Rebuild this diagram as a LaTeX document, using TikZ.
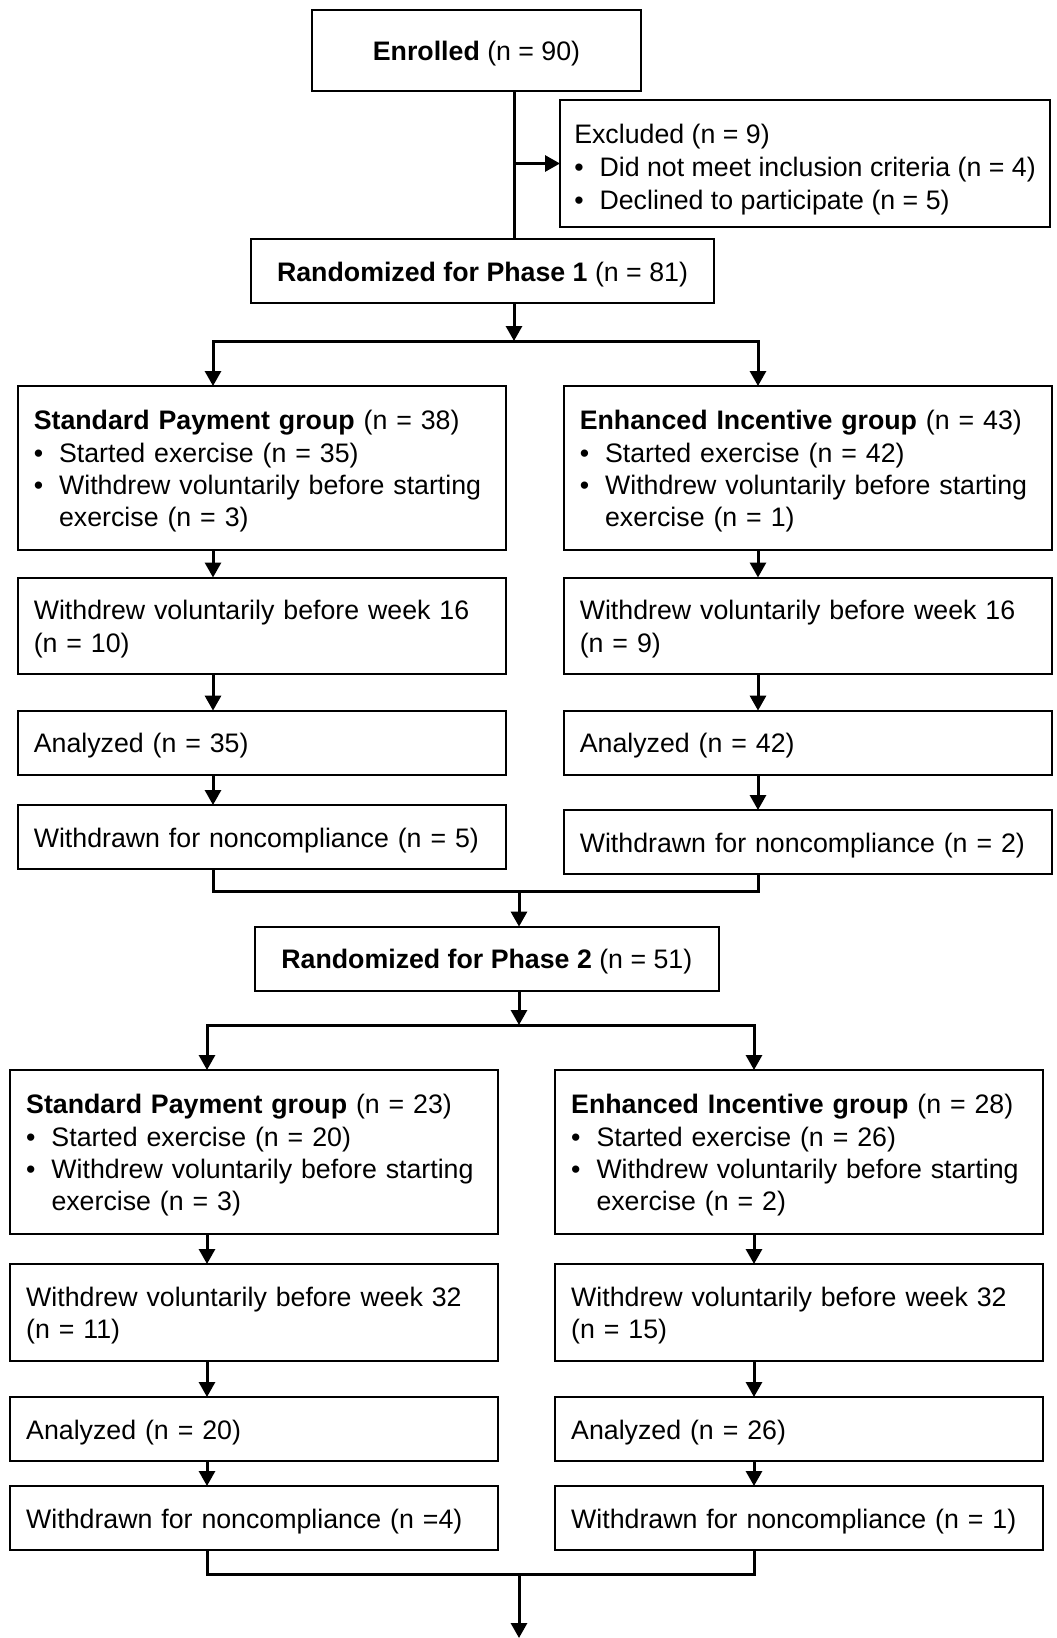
\documentclass[tikz,border=0pt]{standalone}
\usepackage{fontspec}
\setmainfont{Liberation Sans}
\usepackage{tikz}
\usetikzlibrary{positioning, arrows.meta}
\newcommand{\itemdot}{\makebox[12.65pt][l]{\textbullet}}
\newcommand{\toplift}{\rule{0pt}{13pt}}

\begin{document}
\begin{tikzpicture}[x=1pt, y=1pt,
        box/.style={draw, line width=1pt, outer sep=0pt, text width=228pt, inner xsep=8pt, inner ysep=0pt, align=left, font=\fontsize{13.37pt}{16.2pt}\selectfont, execute at begin node=\toplift},
        titlebox/.style={draw, line width=1pt, outer sep=0pt, inner sep=0pt, align=center, font=\fontsize{13.37pt}{16.2pt}\selectfont, execute at begin node=\toplift},
        link/.style={line width=1.5pt},
        >={Triangle[length=7.5pt, width=8pt]}
    ]
        \useasboundingbox (0,0) rectangle (528,-819);

        \node (enrolled) [titlebox, minimum width=164.5pt, minimum height=40.5pt] at (238.25,-25.25) {\textbf{Enrolled} (n = 90)};
        \node (excluded) [draw, line width=1pt, outer sep=0pt, inner xsep=5pt, inner ysep=0pt, align=left, font=\fontsize{13.37pt}{16.4pt}\selectfont, minimum width=245pt, minimum height=63.5pt, anchor=north west] at (280,-50) {\rule{0pt}{15.6pt}Excluded (n = 9)\\\itemdot Did not meet inclusion criteria (n = 4)\\\itemdot Declined to participate (n = 5)};
        \node (rand1) [titlebox, minimum width=231.5pt, minimum height=32pt] at (241.25,-135.5) {\textbf{Randomized for Phase 1} (n = 81)};

        % phase 1
        \node (sp1) [box, minimum height=82pt] at (130.9,-234) {\textbf{Standard Payment group} (n = 38)\\\itemdot Started exercise (n = 35)\\\itemdot Withdrew voluntarily before starting\\\hspace*{12.65pt}exercise (n = 3)};
        \node (ei1) [box, minimum height=82pt, right=29pt of sp1] {\textbf{Enhanced Incentive group} (n = 43)\\\itemdot Started exercise (n = 42)\\\itemdot Withdrew voluntarily before starting\\\hspace*{12.65pt}exercise (n = 1)};
        \node (wk16a) [box, minimum height=48.25pt, below=13.75pt of sp1] {Withdrew voluntarily before week 16\\(n = 10)};
        \node (wk16b) [box, minimum height=48.25pt, below=13.75pt of ei1] {Withdrew voluntarily before week 16\\(n = 9)};
        \node (an1a) [box, minimum height=32pt, below=18.3pt of wk16a] {Analyzed (n = 35)};
        \node (an1b) [box, minimum height=32pt, below=18.3pt of wk16b] {Analyzed (n = 42)};
        \node (wd1a) [box, minimum height=32pt, below=15.2pt of an1a] {Withdrawn for noncompliance (n = 5)};
        \node (wd1b) [box, minimum height=32pt, below=17.7pt of an1b] {Withdrawn for noncompliance (n = 2)};

        \node (rand2) [titlebox, minimum width=231.75pt, minimum height=32pt] at (243.4,-479.3) {\textbf{Randomized for Phase 2} (n = 51)};

        % phase 2
        \node (sp2) [box, minimum height=82pt] at (127.1,-576) {\textbf{Standard Payment group} (n = 23)\\\itemdot Started exercise (n = 20)\\\itemdot Withdrew voluntarily before starting\\\hspace*{12.65pt}exercise (n = 3)};
        \node (ei2) [box, minimum height=82pt, right=28.5pt of sp2] {\textbf{Enhanced Incentive group} (n = 28)\\\itemdot Started exercise (n = 26)\\\itemdot Withdrew voluntarily before starting\\\hspace*{12.65pt}exercise (n = 2)};
        \node (wk32a) [box, minimum height=48.5pt, below=15pt of sp2] {Withdrew voluntarily before week 32\\(n = 11)};
        \node (wk32b) [box, minimum height=48.5pt, below=15pt of ei2] {Withdrew voluntarily before week 32\\(n = 15)};
        \node (an2a) [box, minimum height=32pt, below=18pt of wk32a] {Analyzed (n = 20)};
        \node (an2b) [box, minimum height=32pt, below=18pt of wk32b] {Analyzed (n = 26)};
        \node (wd2a) [box, minimum height=32pt, below=12.5pt of an2a] {Withdrawn for noncompliance (n =4)};
        \node (wd2b) [box, minimum height=32pt, below=12.5pt of an2b] {Withdrawn for noncompliance (n = 1)};

        % connector columns and joints
        \coordinate (trunk1) at (257,0);
        \coordinate (c1l) at (106.5,0);
        \coordinate (c1r) at (379,0);
        \coordinate (c2l) at (103.5,0);
        \coordinate (c2r) at (377,0);
        \coordinate (split1) at (257,-170.5);
        \coordinate (merge1) at (259.5,-445.5);
        \coordinate (split2) at (259.5,-512.5);
        \coordinate (merge2) at (259.5,-787.3);
        \coordinate (out) at (259.5,-819);

        \draw[link] (enrolled.south -| trunk1) -- (rand1.north -| trunk1);
        \draw[link, ->] (trunk1 |- excluded.west) -- (excluded.west);
        \draw[link, ->] (rand1.south -| split1) -- (split1);
        \draw[link, ->] (split1) -| (sp1.north -| c1l);
        \draw[link, ->] (split1) -| (ei1.north -| c1r);
        \foreach \a/\b in {sp1/wk16a, wk16a/an1a, an1a/wd1a}
            \draw[link, ->] (\a.south -| c1l) -- (\b.north -| c1l);
        \foreach \a/\b in {ei1/wk16b, wk16b/an1b, an1b/wd1b}
            \draw[link, ->] (\a.south -| c1r) -- (\b.north -| c1r);
        \draw[link] (wd1a.south -| c1l) |- (merge1) -| (wd1b.south -| c1r);
        \draw[link, ->] (merge1) -- (rand2.north -| merge1);

        \draw[link, ->] (rand2.south -| split2) -- (split2);
        \draw[link, ->] (split2) -| (sp2.north -| c2l);
        \draw[link, ->] (split2) -| (ei2.north -| c2r);
        \foreach \a/\b in {sp2/wk32a, wk32a/an2a, an2a/wd2a}
            \draw[link, ->] (\a.south -| c2l) -- (\b.north -| c2l);
        \foreach \a/\b in {ei2/wk32b, wk32b/an2b, an2b/wd2b}
            \draw[link, ->] (\a.south -| c2r) -- (\b.north -| c2r);
        \draw[link] (wd2a.south -| c2l) |- (merge2) -| (wd2b.south -| c2r);
        \draw[link, ->] (merge2) -- (out);
    \end{tikzpicture}
\end{document}
